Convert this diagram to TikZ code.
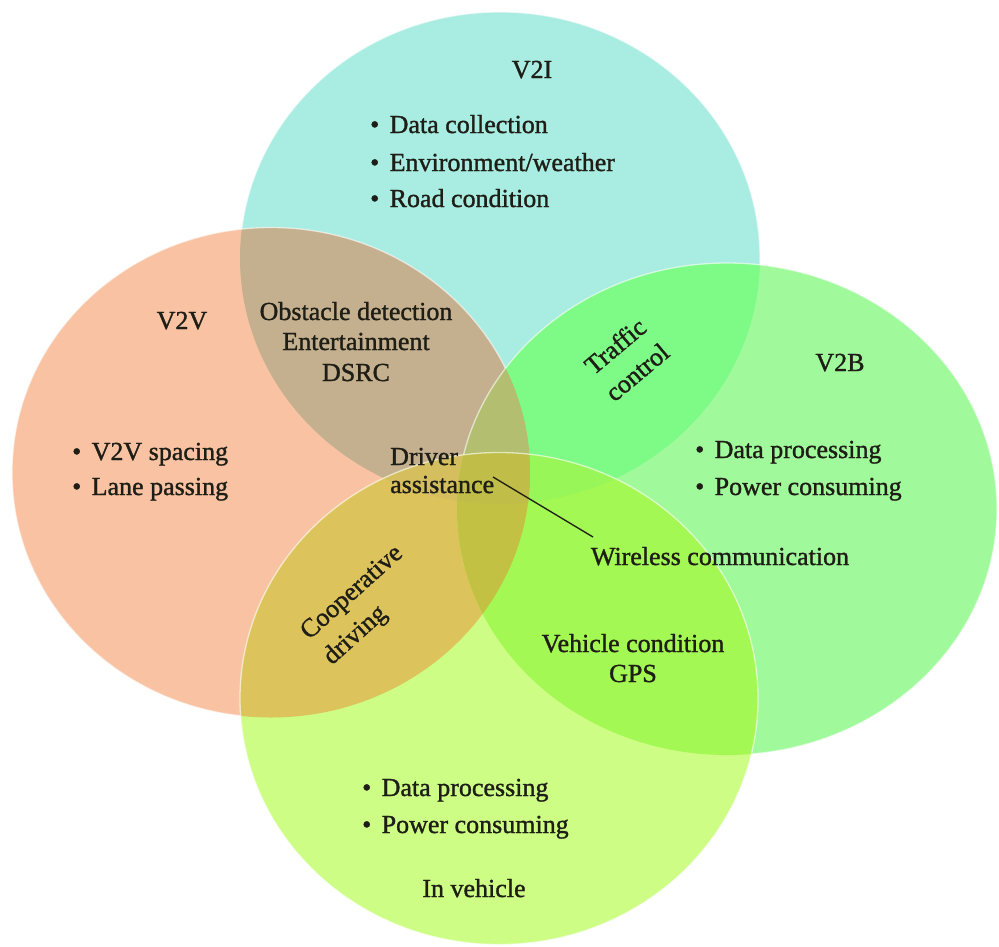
\documentclass[tikz,border=0pt]{standalone}
\usepackage{fontspec}
\setmainfont{Liberation Serif}
\newfontfamily\lblfont{Liberation Serif}[FakeBold=1.2]

% region colours: single sets and their overlaps
\definecolor{ink}{HTML}{1E1E16}
\definecolor{cI}{HTML}{A8ECE2}   % V2I
\definecolor{cV}{HTML}{F9C3A3}   % V2V
\definecolor{cB}{HTML}{A0FA9B}   % V2B
\definecolor{cN}{HTML}{CDFD84}   % in vehicle
\definecolor{cIV}{HTML}{C4B08E}
\definecolor{cIB}{HTML}{7EFA86}
\definecolor{cVB}{HTML}{B4BE70}
\definecolor{cIVB}{HTML}{B4BE70}
\definecolor{cNI}{HTML}{98F658}
\definecolor{cNV}{HTML}{DDC35C}
\definecolor{cNB}{HTML}{A4F853}
\definecolor{cNIV}{HTML}{D4BE5E}
\definecolor{cNIB}{HTML}{98F658}
\definecolor{cNVB}{HTML}{C3C143}
\definecolor{cAll}{HTML}{C0BE48}

\newcommand{\itm}{\textbullet\hspace{0.4em}}

% the four sets
\def\shI{(500,258) ellipse [x radius=260, y radius=246]}
\def\shV{(271,472.5) ellipse [x radius=259, y radius=245]}
\def\shB{(727,509) ellipse [x radius=270, y radius=246]}
\def\shN{(499,698.5) ellipse [x radius=259, y radius=246]}

\begin{document}
\begin{tikzpicture}[x=1pt,y=-1pt,
  lbl/.style={font=\lblfont\fontsize{26}{34}\selectfont, text=ink, inner sep=0pt},
  rim/.style={draw=white, draw opacity=0.6, line width=1.3pt},
  leader/.style={draw=ink, line width=1.3pt}]
\useasboundingbox (0,0) rectangle (999,946);
\fill[white] (0,0) rectangle (999,946);

% V2I
\fill[cI] \shI;
\draw[rim] \shI;

% V2V
\fill[cV] \shV;
\begin{scope}
  \clip \shV;
  \fill[cIV] \shI;
\end{scope}
\draw[rim] \shV;

% V2B
\fill[cB] \shB;
\begin{scope}
  \clip \shB;
  \fill[cIB] \shI;
  \fill[cVB] \shV;
  \clip \shV;
  \fill[cIVB] \shI;
\end{scope}
\draw[rim] \shB;

% In vehicle
\fill[cN] \shN;
\begin{scope}
  \clip \shN;
  \fill[cNI] \shI;
  \fill[cNV] \shV;
  \fill[cNB] \shB;
  \begin{scope}
    \clip \shI;
    \fill[cNIV] \shV;
    \fill[cNIB] \shB;
  \end{scope}
  \begin{scope}
    \clip \shV;
    \fill[cNVB] \shB;
    \clip \shI;
    \fill[cAll] \shB;
  \end{scope}
\end{scope}
\draw[rim] \shN;

% V2I texts
\node[lbl, anchor=base] (v2i) at (532,78) {V2I};
\node[lbl, anchor=base west] (i1) at (370,133) {\itm Data collection};
\node[lbl, anchor=base west] (i2) at (370,171) {\itm Environment/weather};
\node[lbl, anchor=base west] (i3) at (370,207) {\itm Road condition};

% V2V texts
\node[lbl, anchor=base] (v2v) at (182,329) {V2V};
\node[lbl, anchor=base west] (v1) at (72,460) {\itm V2V spacing};
\node[lbl, anchor=base west] (v2) at (72,495) {\itm Lane passing};

% V2I and V2V
\node[lbl, anchor=base] (ob1) at (356,320) {Obstacle detection};
\node[lbl, anchor=base] (ob2) at (356,350) {Entertainment};
\node[lbl, anchor=base] (ob3) at (356,381) {DSRC};

% V2B texts
\node[lbl, anchor=base] (v2b) at (840,371) {V2B};
\node[lbl, anchor=base west] (b1) at (695,458) {\itm Data processing};
\node[lbl, anchor=base west] (b2) at (695,495) {\itm Power consuming};

% V2I and V2B
\node[lbl, rotate=40, align=center] (tr) at (626,359) {Traffic\\control};

% In vehicle texts
\node[lbl, anchor=base west] (n1) at (362,796) {\itm Data processing};
\node[lbl, anchor=base west] (n2) at (362,833) {\itm Power consuming};
\node[lbl, anchor=base] (nv) at (474,897) {In vehicle};

% V2V and in vehicle
\node[lbl, rotate=42, align=left] (co) at (364,606) {Cooperative\\driving};

% V2B and in vehicle
\node[lbl, anchor=base] (vc1) at (633,652) {Vehicle condition};
\node[lbl, anchor=base] (vc2) at (633,682) {GPS};

% centre
\node[lbl, anchor=base west] (da1) at (390,465) {Driver};
\node[lbl, anchor=base west] (da2) at (390,493) {assistance};
\node[lbl, anchor=base] (wc) at (720,565) {Wireless communication};
\coordinate (lA) at (493,477);
\coordinate (lB) at (593,537);
\draw[leader] (lA) -- (lB);
\end{tikzpicture}
\end{document}
